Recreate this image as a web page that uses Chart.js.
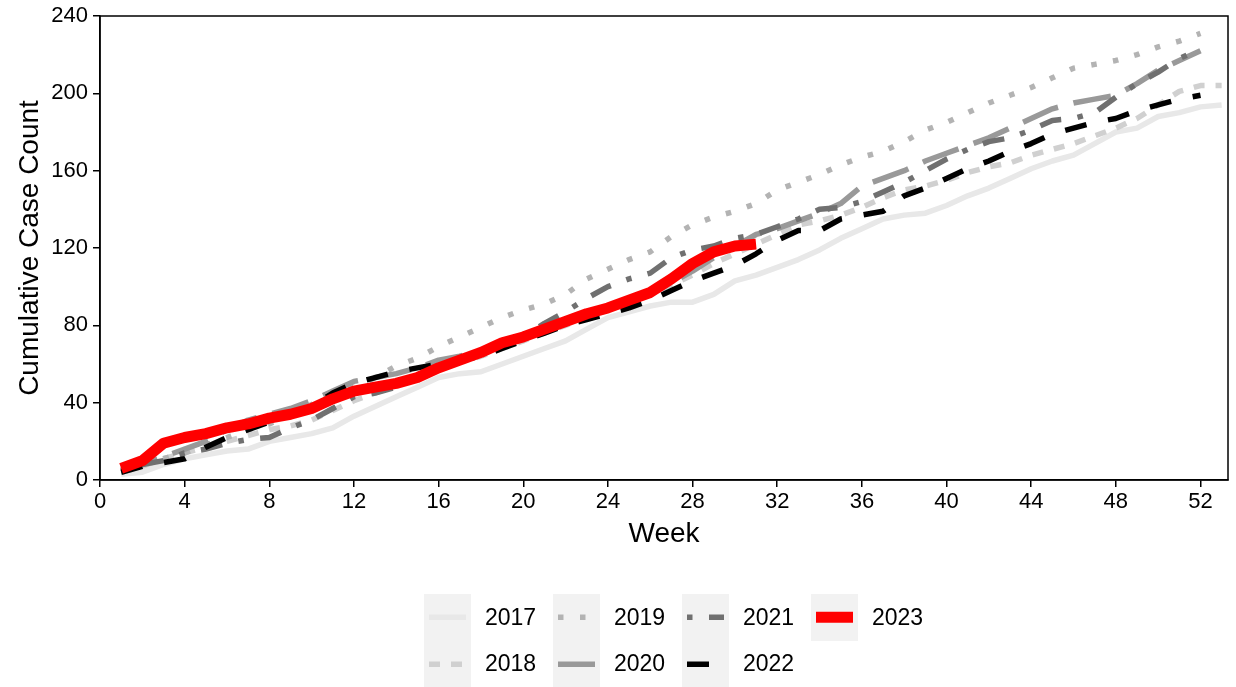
<!DOCTYPE html>
<html>
<head>
    <title>Cumulative Case Count</title>
    <style>
        body {
            margin: 0;
            background-color: #fff;
            font-family: "Liberation Sans", Arial, sans-serif;
        }
        .wrap {
            position: relative;
            width: 1236px;
            height: 687px;
        }
        .legend {
            position: absolute;
            left: 424px;
            top: 594px;
            display: flex;
        }
        .legend-col {
            display: flex;
            flex-direction: column;
            width: 129px;
        }
        .legend-item {
            display: flex;
            align-items: center;
            height: 46.5px;
        }
        .legend-key {
            width: 47px;
            height: 46.5px;
            background-color: #f2f2f2;
        }
        .legend-text {
            margin-left: 14px;
            font-size: 23px;
            color: #000;
        }
    </style>
    <script src="https://cdn.jsdelivr.net/npm/chart.js"></script>
</head>
<body>
    <div class="wrap">
        <canvas id="caseChart" width="1236" height="687"></canvas>
        <div class="legend" id="legend"></div>
    </div>

    <script>
        // weekly cumulative counts
        var weeks = [];
        for (var w = 1; w <= 53; w++) weeks.push(w);

        var years = ['2017', '2018', '2019', '2020', '2021', '2022', '2023'];

        var y2017 = [3, 4, 8, 11, 13, 15, 16, 20, 22, 24, 27, 33, 38, 43, 48, 53, 55, 56, 60, 64,
                     68, 72, 78, 84, 87, 90, 92, 92, 96, 103, 106, 110, 114, 119, 125, 130, 135, 137, 138, 142,
                     147, 151, 156, 161, 165, 168, 174, 180, 182, 188, 190, 193, 194];
        var y2018 = [4, 7, 11, 14, 17, 20, 23, 26, 28, 31, 36, 41, 45, 49, 53, 57, 61, 64, 68, 72,
                     76, 80, 84, 88, 92, 96, 101, 106, 112, 117, 122, 127, 132, 134, 137, 141, 146, 150, 152, 155,
                     159, 162, 164, 168, 171, 174, 178, 182, 187, 194, 201, 204, 204];
        var y2019 = [5, 8, 11, 14, 18, 22, 26, 29, 34, 39, 44, 48, 53, 59, 63, 69, 74, 79, 84, 88,
                     91, 96, 104, 109, 114, 118, 126, 132, 136, 139, 143, 150, 154, 158, 163, 167, 170, 175, 181, 185,
                     190, 195, 199, 203, 208, 213, 215, 217, 220, 224, 227, 231];
        var y2020 = [5, 8, 12, 16, 20, 26, 31, 34, 37, 41, 46, 51, 53, 55, 58, 62, 64, 67, 70, 73,
                     77, 81, 85, 89, 93, 97, 102, 108, 115, 121, 127, 130, 134, 138, 143, 152, 156, 160, 165, 169,
                     173, 177, 182, 187, 192, 195, 197, 199, 205, 212, 217, 222];
        var y2021 = [5, 8, 10, 14, 16, 19, 21, 22, 27, 31, 37, 43, 45, 48, 53, 58, 62, 66, 70, 74,
                     81, 87, 94, 100, 104, 107, 115, 119, 121, 125, 127, 131, 135, 140, 141, 144, 149, 154, 160, 166,
                     171, 175, 177, 181, 186, 187, 190, 198, 205, 211, 218, 223];
        var y2022 = [4, 7, 9, 11, 17, 22, 26, 30, 34, 38, 45, 50, 53, 56, 58, 60, 62, 64, 68, 72,
                     76, 80, 83, 86, 89, 93, 98, 103, 107, 111, 117, 124, 129, 129, 135, 137, 139, 147, 151, 156,
                     161, 165, 170, 174, 179, 182, 185, 187, 191, 194, 197, 199];
        var y2023 = [6, 10, 19, 22, 24, 27, 29, 32, 34, 37, 42, 46, 48, 50, 53, 58, 62, 66, 71, 74,
                     78, 82, 86, 89, 93, 97, 104, 112, 118, 121, 122];

        var xTicks = [0, 4, 8, 12, 16, 20, 24, 28, 32, 36, 40, 44, 48, 52];
        var yTicks = [0, 40, 80, 120, 160, 200, 240];

        var series = [y2017, y2018, y2019, y2020, y2021, y2022, y2023];
        var colors = ['#e8e8e8', '#d0d0d0', '#b3b3b3', '#999999', '#707070', '#000000', '#ff0000'];
        var dashes = [[], [11, 11], [5.5, 16.5], [38, 16], [5.5, 16.5, 22, 16.5], [22, 22], []];
        var widths = [5.5, 5.5, 5.5, 5.5, 5.5, 5.5, 11];

        var datasets = series.map(function (vals, i) {
            return {
                label: years[i],
                data: vals.map(function (v, j) { return { x: weeks[j], y: v }; }),
                borderColor: colors[i],
                borderWidth: widths[i],
                borderDash: dashes[i],
                borderCapStyle: 'butt',
                borderJoinStyle: 'round',
                pointRadius: 0,
                fill: false,
                tension: 0,
                order: series.length - i   // later years on top
            };
        });

        // box round the panel
        var panelBorder = {
            id: 'panelBorder',
            afterDraw: function (chart) {
                var a = chart.chartArea, ctx = chart.ctx;
                ctx.save();
                ctx.strokeStyle = '#000';
                ctx.lineWidth = 1.5;
                ctx.strokeRect(a.left, a.top, a.right - a.left, a.bottom - a.top);
                ctx.restore();
            }
        };

        var tickFont = { family: 'Liberation Sans', size: 22, lineHeight: 1 };
        var titleFont = { family: 'Liberation Sans', size: 28 };

        var caseChart = new Chart(document.getElementById('caseChart'), {
            type: 'line',
            data: { datasets: datasets },
            options: {
                responsive: false,
                animation: false,
                layout: { padding: { left: 0, right: 8, top: 15, bottom: 127 } },
                plugins: {
                    legend: { display: false },
                    tooltip: { enabled: false }
                },
                scales: {
                    x: {
                        type: 'linear',
                        min: 0,
                        max: 53.3,
                        afterBuildTicks: function (s) {
                            s.ticks = xTicks.map(function (v) { return { value: v }; });
                        },
                        afterFit: function (s) { s.height = 80; },
                        grid: { drawOnChartArea: false, drawTicks: true, tickLength: 7, color: '#000', lineWidth: 1.5 },
                        border: { display: true, color: '#000', width: 1.5 },
                        ticks: { font: tickFont, color: '#000', padding: 4, maxRotation: 0, autoSkip: false },
                        title: { display: true, text: 'Week', font: titleFont, color: '#000', padding: { top: 0, bottom: 9 } }
                    },
                    y: {
                        min: 0,
                        max: 240,
                        afterBuildTicks: function (s) {
                            s.ticks = yTicks.map(function (v) { return { value: v }; });
                        },
                        afterFit: function (s) { s.width = 100; },
                        grid: { drawOnChartArea: false, drawTicks: true, tickLength: 7, color: '#000', lineWidth: 1.5 },
                        border: { display: true, color: '#000', width: 1.5 },
                        ticks: { font: tickFont, color: '#000', padding: 5 },
                        title: { display: true, text: 'Cumulative Case Count', font: titleFont, color: '#000', padding: { top: 13, bottom: 0 } }
                    }
                }
            },
            plugins: [panelBorder]
        });

        // legend: 4 columns, filled top to bottom
        function keySvg(i) {
            var dash = dashes[i].length ? 'stroke-dasharray="' + dashes[i].join(' ') + '"' : '';
            return '<svg width="47" height="46.5"><line x1="5" y1="23.25" x2="42" y2="23.25" stroke="' + colors[i] +
                '" stroke-width="' + widths[i] + '" ' + dash + '/></svg>';
        }
        var legend = document.getElementById('legend');
        for (var c = 0; c < 4; c++) {
            var col = document.createElement('div');
            col.className = 'legend-col';
            for (var r = 0; r < 2; r++) {
                var i = c * 2 + r;
                if (i >= years.length) break;
                var item = document.createElement('div');
                item.className = 'legend-item';
                item.innerHTML = '<div class="legend-key">' + keySvg(i) + '</div><span class="legend-text">' + years[i] + '</span>';
                col.appendChild(item);
            }
            legend.appendChild(col);
        }
    </script>
</body>
</html>
